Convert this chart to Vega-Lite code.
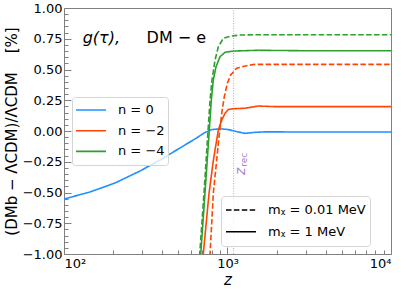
{
  "$schema": "https://vega.github.io/schema/vega-lite/v6.json",
  "width": 327,
  "height": 246,
  "autosize": "none",
  "padding": {"left": 64, "top": 8, "right": 16, "bottom": 38},
  "config": {
    "font": "DejaVu Sans",
    "view": {"stroke": "#808080", "strokeWidth": 1},
    "axis": {"tickColor": "#808080", "domain": false, "grid": false, "labelColor": "black", "titleColor": "black", "labelFont": "DejaVu Sans", "titleFont": "DejaVu Sans", "titleFontWeight": "normal", "labelFontSize": 13},
    "legend": {"labelFont": "DejaVu Sans", "labelColor": "black"}
  },
  "datasets": {
    "curves": [
      {"z": 100, "v": -0.553, "n": "n = 0", "m": "mᵪ = 1 MeV"},
      {"z": 144, "v": -0.496, "n": "n = 0", "m": "mᵪ = 1 MeV"},
      {"z": 205, "v": -0.423, "n": "n = 0", "m": "mᵪ = 1 MeV"},
      {"z": 292, "v": -0.325, "n": "n = 0", "m": "mᵪ = 1 MeV"},
      {"z": 387, "v": -0.236, "n": "n = 0", "m": "mᵪ = 1 MeV"},
      {"z": 512, "v": -0.138, "n": "n = 0", "m": "mᵪ = 1 MeV"},
      {"z": 632, "v": -0.065, "n": "n = 0", "m": "mᵪ = 1 MeV"},
      {"z": 728, "v": -0.012, "n": "n = 0", "m": "mᵪ = 1 MeV"},
      {"z": 804, "v": 0.012, "n": "n = 0", "m": "mᵪ = 1 MeV"},
      {"z": 900, "v": 0.018, "n": "n = 0", "m": "mᵪ = 1 MeV"},
      {"z": 1007, "v": 0.012, "n": "n = 0", "m": "mᵪ = 1 MeV"},
      {"z": 1128, "v": -0.004, "n": "n = 0", "m": "mᵪ = 1 MeV"},
      {"z": 1280, "v": -0.019, "n": "n = 0", "m": "mᵪ = 1 MeV"},
      {"z": 1473, "v": -0.011, "n": "n = 0", "m": "mᵪ = 1 MeV"},
      {"z": 1694, "v": -0.007, "n": "n = 0", "m": "mᵪ = 1 MeV"},
      {"z": 2773, "v": -0.008, "n": "n = 0", "m": "mᵪ = 1 MeV"},
      {"z": 10000, "v": -0.008, "n": "n = 0", "m": "mᵪ = 1 MeV"},

      {"z": 705, "v": -1.081, "n": "n = −2", "m": "mᵪ = 1 MeV"},
      {"z": 711, "v": -1.0, "n": "n = −2", "m": "mᵪ = 1 MeV"},
      {"z": 771, "v": -0.507, "n": "n = −2", "m": "mᵪ = 1 MeV"},
      {"z": 820, "v": -0.236, "n": "n = −2", "m": "mᵪ = 1 MeV"},
      {"z": 879, "v": 0.008, "n": "n = −2", "m": "mᵪ = 1 MeV"},
      {"z": 922, "v": 0.089, "n": "n = −2", "m": "mᵪ = 1 MeV"},
      {"z": 966, "v": 0.144, "n": "n = −2", "m": "mᵪ = 1 MeV"},
      {"z": 1012, "v": 0.175, "n": "n = −2", "m": "mᵪ = 1 MeV"},
      {"z": 1085, "v": 0.181, "n": "n = −2", "m": "mᵪ = 1 MeV"},
      {"z": 1280, "v": 0.185, "n": "n = −2", "m": "mᵪ = 1 MeV"},
      {"z": 1537, "v": 0.203, "n": "n = −2", "m": "mᵪ = 1 MeV"},
      {"z": 1954, "v": 0.198, "n": "n = −2", "m": "mᵪ = 1 MeV"},
      {"z": 10000, "v": 0.198, "n": "n = −2", "m": "mᵪ = 1 MeV"},

      {"z": 776, "v": -1.081, "n": "n = −2", "m": "mᵪ = 0.01 MeV"},
      {"z": 782, "v": -1.0, "n": "n = −2", "m": "mᵪ = 0.01 MeV"},
      {"z": 819, "v": -0.507, "n": "n = −2", "m": "mᵪ = 0.01 MeV"},
      {"z": 892, "v": -0.019, "n": "n = −2", "m": "mᵪ = 0.01 MeV"},
      {"z": 922, "v": 0.144, "n": "n = −2", "m": "mᵪ = 0.01 MeV"},
      {"z": 956, "v": 0.279, "n": "n = −2", "m": "mᵪ = 0.01 MeV"},
      {"z": 998, "v": 0.388, "n": "n = −2", "m": "mᵪ = 0.01 MeV"},
      {"z": 1046, "v": 0.455, "n": "n = −2", "m": "mᵪ = 0.01 MeV"},
      {"z": 1137, "v": 0.51, "n": "n = −2", "m": "mᵪ = 0.01 MeV"},
      {"z": 1309, "v": 0.531, "n": "n = −2", "m": "mᵪ = 0.01 MeV"},
      {"z": 1470, "v": 0.542, "n": "n = −2", "m": "mᵪ = 0.01 MeV"},
      {"z": 10000, "v": 0.542, "n": "n = −2", "m": "mᵪ = 0.01 MeV"},

      {"z": 679, "v": -1.081, "n": "n = −4", "m": "mᵪ = 1 MeV"},
      {"z": 686, "v": -1.0, "n": "n = −4", "m": "mᵪ = 1 MeV"},
      {"z": 728, "v": -0.507, "n": "n = −4", "m": "mᵪ = 1 MeV"},
      {"z": 774, "v": 0.008, "n": "n = −4", "m": "mᵪ = 1 MeV"},
      {"z": 796, "v": 0.252, "n": "n = −4", "m": "mᵪ = 1 MeV"},
      {"z": 819, "v": 0.415, "n": "n = −4", "m": "mᵪ = 1 MeV"},
      {"z": 851, "v": 0.523, "n": "n = −4", "m": "mᵪ = 1 MeV"},
      {"z": 900, "v": 0.604, "n": "n = −4", "m": "mᵪ = 1 MeV"},
      {"z": 966, "v": 0.64, "n": "n = −4", "m": "mᵪ = 1 MeV"},
      {"z": 1085, "v": 0.65, "n": "n = −4", "m": "mᵪ = 1 MeV"},
      {"z": 1537, "v": 0.656, "n": "n = −4", "m": "mᵪ = 1 MeV"},
      {"z": 2773, "v": 0.653, "n": "n = −4", "m": "mᵪ = 1 MeV"},
      {"z": 10000, "v": 0.653, "n": "n = −4", "m": "mᵪ = 1 MeV"},

      {"z": 670, "v": -1.081, "n": "n = −4", "m": "mᵪ = 0.01 MeV"},
      {"z": 676, "v": -1.0, "n": "n = −4", "m": "mᵪ = 0.01 MeV"},
      {"z": 718, "v": -0.507, "n": "n = −4", "m": "mᵪ = 0.01 MeV"},
      {"z": 763, "v": 0.035, "n": "n = −4", "m": "mᵪ = 0.01 MeV"},
      {"z": 782, "v": 0.252, "n": "n = −4", "m": "mᵪ = 0.01 MeV"},
      {"z": 804, "v": 0.415, "n": "n = −4", "m": "mᵪ = 0.01 MeV"},
      {"z": 839, "v": 0.577, "n": "n = −4", "m": "mᵪ = 0.01 MeV"},
      {"z": 879, "v": 0.685, "n": "n = −4", "m": "mᵪ = 0.01 MeV"},
      {"z": 943, "v": 0.754, "n": "n = −4", "m": "mᵪ = 0.01 MeV"},
      {"z": 1036, "v": 0.77, "n": "n = −4", "m": "mᵪ = 0.01 MeV"},
      {"z": 1191, "v": 0.78, "n": "n = −4", "m": "mᵪ = 0.01 MeV"},
      {"z": 1470, "v": 0.783, "n": "n = −4", "m": "mᵪ = 0.01 MeV"},
      {"z": 10000, "v": 0.783, "n": "n = −4", "m": "mᵪ = 0.01 MeV"}
    ]
  },
  "layer": [
    {
      "data": {"name": "curves"},
      "mark": {"type": "point", "opacity": 0},
      "encoding": {
        "x": {"field": "z", "type": "quantitative", "scale": {"type": "log", "domain": [100, 10000]},
          "axis": {"orient": "bottom", "values": [200, 300, 400, 500, 600, 700, 800, 900, 2000, 3000, 4000, 5000, 6000, 7000, 8000, 9000], "labels": false, "tickSize": -4, "title": null}},
        "y": {"field": "v", "type": "quantitative", "scale": {"domain": [-1, 1]},
          "axis": {"orient": "left", "values": [-0.95, -0.9, -0.85, -0.8, -0.7, -0.65, -0.6, -0.55, -0.45, -0.4, -0.35, -0.3, -0.2, -0.15, -0.1, -0.05, 0.05, 0.1, 0.15, 0.2, 0.3, 0.35, 0.4, 0.45, 0.55, 0.6, 0.65, 0.7, 0.8, 0.85, 0.9, 0.95], "labels": false, "tickSize": -4, "title": null}}
      }
    },
    {
      "data": {"values": [{}]},
      "mark": {"type": "rule", "color": "#a78bd0", "opacity": 0.8, "strokeWidth": 1, "strokeDash": [1, 1.5]},
      "encoding": {"x": {"datum": 1090, "type": "quantitative", "axis": null}}
    },
    {
      "data": {"name": "curves"},
      "mark": {"type": "line", "clip": true, "strokeWidth": 1.6},
      "encoding": {
        "x": {"field": "z", "type": "quantitative", "scale": {"type": "log", "domain": [100, 10000]},
          "axis": {"orient": "bottom", "values": [100, 1000, 10000], "labelExpr": "datum.value == 100 ? '10²' : datum.value == 1000 ? '10³' : '10⁴'", "tickSize": -7, "labelPadding": 10, "title": "z", "titleFontStyle": "italic", "titleFontSize": 15, "titleY": 30, "titleBaseline": "alphabetic"}},
        "y": {"field": "v", "type": "quantitative", "scale": {"domain": [-1, 1]},
          "axis": {"orient": "left", "values": [-1, -0.75, -0.5, -0.25, 0, 0.25, 0.5, 0.75, 1], "labelExpr": "replace(format(datum.value, '.2f'), '-', '−')", "tickSize": -7, "labelPadding": 9, "title": "(DMb − ΛCDM)/ΛCDM\u00a0\u00a0\u00a0\u00a0[%]", "titleFontSize": 15, "titleX": -53, "titleY": 123, "titleAngle": 270, "titleBaseline": "middle", "titleAlign": "center"}},
        "color": {"field": "n", "type": "nominal",
          "scale": {"domain": ["n = 0", "n = −2", "n = −4"], "range": ["#1e90ff", "#ff4500", "#2ca02c"]},
          "legend": {"orient": "none", "legendX": 8, "legendY": 89, "title": null, "symbolType": "stroke", "symbolSize": 900, "symbolStrokeWidth": 1.6, "labelFontSize": 13, "labelOffset": 11, "clipHeight": 20, "rowPadding": 0.7, "padding": 3, "strokeColor": "#d5d5d5", "fillColor": "rgba(255,255,255,0.8)", "cornerRadius": 3}},
        "strokeDash": {"field": "m", "type": "nominal",
          "scale": {"domain": ["mᵪ = 0.01 MeV", "mᵪ = 1 MeV"], "range": [[5.5, 2.4], [1, 0]]},
          "legend": {"orient": "none", "legendX": 157, "legendY": 188, "title": null, "symbolType": "stroke", "symbolSize": 900, "symbolStrokeWidth": 1.6, "symbolStrokeColor": "black", "labelFontSize": 13, "labelOffset": 11, "clipHeight": 20, "rowPadding": 1.7, "padding": 4, "strokeColor": "#d5d5d5", "fillColor": "rgba(255,255,255,0.8)", "cornerRadius": 3}}
      }
    },
    {
      "data": {"values": [{}]},
      "mark": {"type": "text", "text": "z", "fontSize": 14, "fontStyle": "italic", "color": "#9467bd", "opacity": 0.85, "angle": 270, "align": "left", "baseline": "alphabetic"},
      "encoding": {"x": {"datum": 1279, "type": "quantitative", "axis": null}, "y": {"datum": -0.358, "type": "quantitative", "axis": null}}
    },
    {
      "data": {"values": [{}]},
      "mark": {"type": "text", "text": "rec", "fontSize": 9, "color": "#9467bd", "opacity": 0.85, "angle": 270, "align": "left", "baseline": "alphabetic"},
      "encoding": {"x": {"datum": 1309, "type": "quantitative", "axis": null}, "y": {"datum": -0.29, "type": "quantitative", "axis": null}}
    },
    {
      "data": {"values": [{}]},
      "mark": {"type": "text", "text": "g(τ),", "fontSize": 16, "fontStyle": "italic", "color": "black", "align": "left", "baseline": "alphabetic"},
      "encoding": {"x": {"datum": 130, "type": "quantitative", "axis": null}, "y": {"datum": 0.713, "type": "quantitative", "axis": null}}
    },
    {
      "data": {"values": [{}]},
      "mark": {"type": "text", "text": "DM − e", "fontSize": 16, "color": "black", "align": "left", "baseline": "alphabetic"},
      "encoding": {"x": {"datum": 320, "type": "quantitative", "axis": null}, "y": {"datum": 0.713, "type": "quantitative", "axis": null}}
    }
  ],
  "resolve": {"axis": {"x": "independent", "y": "independent"}}
}
